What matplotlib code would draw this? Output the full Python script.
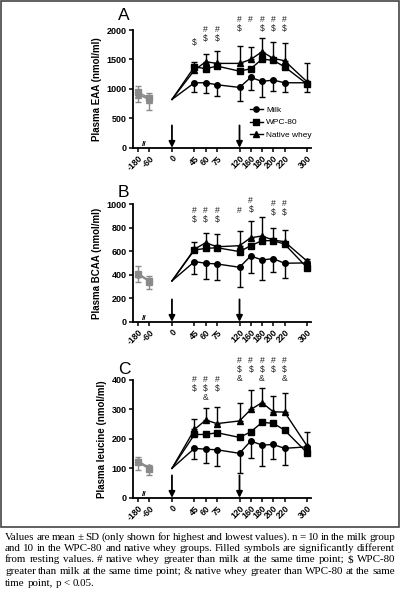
import matplotlib
matplotlib.use('Agg')
import matplotlib.pyplot as plt
from matplotlib.patches import Rectangle

plt.rcParams['font.family'] = ['Liberation Sans', 'DejaVu Sans']

# ---------------- data ----------------
time_labels = [-180, -60, 0, 45, 60, 75, 120, 160, 180, 200, 220, 300]
base_times = [-180, -60]
post_times = [45, 60, 75, 120, 160, 180, 200, 220, 300]
dose_times = [0, 120]
series_names = ['Milk', 'WPC-80', 'Native whey']

# Panel A: Plasma EAA
eaa_start = 821
eaa_base_milk = [910, 830]
eaa_base_wpc = [940, 850]
eaa_base_native = [900, 820]
eaa_base_sd_hi = [113, 73]
eaa_base_sd_lo = [119, 180]
eaa_milk = [1104, 1104, 1070, 1025, 1195, 1127, 1150, 1104, 1104]
eaa_wpc = [1376, 1342, 1387, 1302, 1342, 1506, 1484, 1376, 1082]
eaa_native = [1319, 1461, 1433, 1433, 1500, 1631, 1518, 1478, 1121]
eaa_sd_hi = [84, 130, 215, 294, 216, 232, 271, 294, 323]
eaa_sd_lo = [164, 181, 187, 227, 215, 261, 187, 164, 131]
eaa_marks = ['$', '#$', '#$', '#$', '#', '#$', '#$', '#$', '']

# Panel B: Plasma BCAA
bcaa_start = 347
bcaa_base_milk = [400, 345]
bcaa_base_wpc = [410, 350]
bcaa_base_native = [405, 340]
bcaa_base_sd_hi = [63, 39]
bcaa_base_sd_lo = [59, 64]
bcaa_milk = [511, 497, 491, 463, 559, 525, 536, 497, 500]
bcaa_wpc = [610, 623, 629, 596, 646, 689, 689, 660, 460]
bcaa_native = [617, 671, 637, 646, 714, 728, 694, 680, 515]
bcaa_sd_hi = [63, 86, 109, 127, 141, 164, 104, 99, 20]
bcaa_sd_lo = [108, 136, 136, 164, 147, 169, 116, 122, 10]
bcaa_marks = ['#$', '#$', '#$', '#', '#$', '', '#$', '#$', '']

# Panel C: Plasma leucine
leu_start = 100
leu_base_milk = [122, 100]
leu_base_wpc = [120, 98]
leu_base_native = [124, 103]
leu_base_sd_hi = [15, 8]
leu_base_sd_lo = [24, 21]
leu_milk = [168, 165, 163, 151, 193, 179, 181, 168, 173]
leu_wpc = [215, 215, 221, 205, 224, 256, 253, 230, 153]
leu_native = [232, 264, 252, 261, 300, 323, 292, 291, 176]
leu_sd_hi = [34, 42, 57, 60, 66, 51, 55, 64, 48]
leu_sd_lo = [37, 48, 54, 66, 59, 72, 50, 55, 5]
leu_marks = ['#$', '#$&', '#$', '#$&', '#$', '#$&', '#$', '#$&', '']

caption_lines = [
    "Values are mean \u00b1 SD (only shown for highest and lowest values). n = 10 in the milk group",
    "and 10 in the WPC-80 and native whey groups. Filled symbols are significantly different",
    "from resting values. # native whey greater than milk at the same time point; $ WPC-80",
    "greater than milk at the same time point; & native whey greater than WPC-80 at the same",
    "time point, p < 0.05.",
]

# ---------------- layout ----------------
W, H = 400, 600
tick_slots = [-3, -2, 0, 2, 3, 4, 6, 7, 8, 9, 10, 12]
slot = dict(zip(time_labels, tick_slots))
markers = ['o', 's', '^']

panels = [
    dict(letter='A', ylabel='Plasma EAA (nmol/ml)', ymax=2000, ystep=500,
         start=eaa_start, base=[eaa_base_milk, eaa_base_wpc, eaa_base_native],
         base_hi=eaa_base_sd_hi, base_lo=eaa_base_sd_lo,
         post=[eaa_milk, eaa_wpc, eaa_native], hi=eaa_sd_hi, lo=eaa_sd_lo,
         marks=eaa_marks, mark_top=[1784, 2010, 2010, 2180, 2180, 2180, 2180, 2180, 0],
         top_px=30.0, letter_base=20.5, legend=True),
    dict(letter='B', ylabel='Plasma BCAA (nmol/ml)', ymax=1000, ystep=200,
         start=bcaa_start, base=[bcaa_base_milk, bcaa_base_wpc, bcaa_base_native],
         base_hi=bcaa_base_sd_hi, base_lo=bcaa_base_sd_lo,
         post=[bcaa_milk, bcaa_wpc, bcaa_native], hi=bcaa_sd_hi, lo=bcaa_sd_lo,
         marks=bcaa_marks, mark_top=[941, 941, 941, 941, 1028, 0, 1006, 1006, 0],
         top_px=204.0, letter_base=197.5, legend=False),
    dict(letter='C', ylabel='Plasma leucine (nmol/ml)', ymax=400, ystep=100,
         start=leu_start, base=[leu_base_milk, leu_base_wpc, leu_base_native],
         base_hi=leu_base_sd_hi, base_lo=leu_base_sd_lo,
         post=[leu_milk, leu_wpc, leu_native], hi=leu_sd_hi, lo=leu_sd_lo,
         marks=leu_marks, mark_top=[402, 402, 402, 466, 466, 466, 466, 466, 0],
         top_px=380.0, letter_base=373.5, legend=False),
]

ax_left_px, ax_right_px, ax_h_px = 133.0, 311.0, 117.8

fig = plt.figure(figsize=(W / 100, H / 100), dpi=100)
fig.patches.append(Rectangle((1 / W, 1 - 527 / H), 1 - 2 / W, 527 / H - 1 / H,
                             transform=fig.transFigure, fill=False,
                             edgecolor='#444444', linewidth=1.2))

gray = '#8a8a8a'
for p in panels:
    bottom_px = p['top_px'] + ax_h_px
    ax = fig.add_axes([ax_left_px / W, 1 - bottom_px / H,
                       (ax_right_px - ax_left_px) / W, ax_h_px / H])
    ax.set_xlim(-3.46, 12.35)
    ax.set_ylim(0, p['ymax'])
    for s in ['top', 'right']:
        ax.spines[s].set_visible(False)
    for s in ['left', 'bottom']:
        ax.spines[s].set_linewidth(1.3)
    ax.set_xticks(tick_slots)
    ax.set_xticklabels([str(t) for t in time_labels], rotation=45, ha='right',
                       rotation_mode='anchor', fontsize=6.2, fontweight='bold')
    yt = list(range(0, p['ymax'] + 1, p['ystep']))
    ax.set_yticks(yt)
    ax.set_yticklabels([str(v) for v in yt], fontsize=6.5, fontweight='bold')
    ax.tick_params(axis='both', length=3, width=1.1, pad=1.5)
    ax.set_ylabel(p['ylabel'], fontsize=7, fontweight='bold', labelpad=3)

    xb = [slot[t] for t in base_times]
    xp = [slot[t] for t in post_times]
    for vals, bvals, mk, name in zip(p['post'], p['base'], markers, series_names):
        ax.plot(xb, bvals, color=gray, lw=1, marker=mk, ms=3.8, mfc=gray, mec=gray)
        ax.plot([slot[0]] + xp, [p['start']] + vals, color='k', lw=1, zorder=3)
        ax.plot(xp, vals, color='k', lw=1, marker=mk, ms=4, ls='none',
                zorder=4, label=name)
    # error bars: upper on highest, lower on lowest
    ups = [max(v) for v in zip(*p['post'])]
    lows = [min(v) for v in zip(*p['post'])]
    ax.errorbar(xp, ups, yerr=[[0] * len(ups), p['hi']], fmt='none', ecolor='k',
                elinewidth=1, capsize=2.5, capthick=1, zorder=2)
    ax.errorbar(xp, lows, yerr=[p['lo'], [0] * len(lows)], fmt='none', ecolor='k',
                elinewidth=1, capsize=2.5, capthick=1, zorder=2)
    bups = [max(v) for v in zip(*p['base'])]
    blows = [min(v) for v in zip(*p['base'])]
    ax.errorbar(xb, bups, yerr=[[0, 0], p['base_hi']], fmt='none', ecolor=gray,
                elinewidth=1, capsize=2.5, capthick=1)
    ax.errorbar(xb, blows, yerr=[p['base_lo'], [0, 0]], fmt='none', ecolor=gray,
                elinewidth=1, capsize=2.5, capthick=1)

    # ingestion arrows
    for t in dose_times:
        ax.annotate('', xy=(slot[t], 0.0), xycoords=('data', 'axes fraction'),
                    xytext=(slot[t], 0.19), textcoords=('data', 'axes fraction'),
                    arrowprops=dict(arrowstyle='-|>', color='k', lw=1.3,
                                    mutation_scale=9, shrinkA=0, shrinkB=0))
    # axis break
    ax.text(-2.5, 0, '//', ha='center', va='bottom', fontsize=6, fontweight='bold',
            transform=ax.transData, clip_on=False)

    # significance marks
    for t, m, ytop in zip(post_times, p['marks'], p['mark_top']):
        for i, ch in enumerate(m):
            ax.annotate(ch, xy=(slot[t], ytop), xytext=(0, -6.5 * i),
                        textcoords='offset points', ha='center', va='center',
                        fontsize=6.2, color='#222222', annotation_clip=False,
                        parse_math=False)

    fig.text(118 / W, 1 - p['letter_base'] / H, p['letter'], fontsize=12.5,
             ha='left', va='baseline')

    if p['legend']:
        ax.legend(handles=[plt.Line2D([], [], color='k', lw=1, marker=mk, ms=3.8)
                           for mk in markers],
                  labels=series_names, loc='upper left', frameon=False,
                  fontsize=6, handlelength=1.5, handletextpad=0.4,
                  labelspacing=0.55, borderpad=0,
                  bbox_to_anchor=((246 - ax_left_px) / (ax_right_px - ax_left_px),
                                  1 - (102 - p['top_px']) / ax_h_px))

# ---------------- caption (justified) ----------------
renderer = fig.canvas.get_renderer()
cap_left, cap_right = 5.0, 395.0
cap_y0, cap_dy = 537.0, 11.5
for li, line in enumerate(caption_lines):
    words = line.split(' ')
    y = 1 - (cap_y0 + li * cap_dy) / H
    texts = [fig.text(0, y, w, fontsize=7.9, family=['Liberation Serif', 'DejaVu Serif'],
                      ha='left', va='center', parse_math=False) for w in words]
    widths = [t.get_window_extent(renderer).width for t in texts]
    if li < len(caption_lines) - 1 and len(words) > 1:
        gap = (cap_right - cap_left - sum(widths)) / (len(words) - 1)
    else:
        gap = 2.8
    x = cap_left
    for t, w in zip(texts, widths):
        t.set_x(x / W)
        x += w + gap

fig.savefig('out.png', dpi=100)
